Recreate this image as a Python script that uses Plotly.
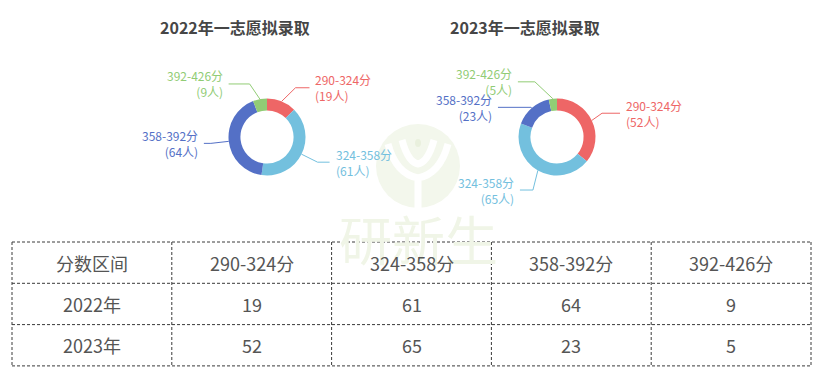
import math
import plotly.graph_objects as go

# ---------------- data ----------------
categories = ["290-324分", "324-358分", "358-392分", "392-426分"]
years = ["2022年", "2023年"]
counts_2022 = [19, 61, 64, 9]
counts_2023 = [52, 65, 23, 5]
chart_titles = ["2022年一志愿拟录取", "2023年一志愿拟录取"]
table_header = "分数区间"
unit_person = "人"

# ---------------- style ----------------
W, H = 834, 381
FONT = "Noto Sans CJK SC"
COLORS = ["#ee6666", "#73c0de", "#5470c6", "#91cc75"]
CENTERS = [(267, 137), (557, 137)]
R_OUT = 38.5
HOLE = 0.69
LEN1 = 18
GAP = 4
# per chart, per slice: (elbow dx, elbow dy, horizontal length) label-layout tuning
LABEL_TUNE = [
    [(7, 3, 14), (0, 0, 12), (0, 0, 7), (-7, 2.5, 21)],
    [(-6, 0.5, 18), (4, 4, 13), (11, 13, 33), (-16, 1, 17)],
]
TITLE_DX = -32
TITLE_Y = 27
TABLE_LEFT, TABLE_TOP = 12, 242
COL_W, ROW_H = 159.8, 41.3
LINE_COLOR = "#3a3a3a"
TEXT_COLOR = "#555555"

fig = go.Figure()
# invisible cartesian layer in pixel units (for labels, lines, table)
fig.add_trace(go.Scatter(x=[], y=[], showlegend=False, hoverinfo="skip"))

shapes = []
annotations = []

# watermark (faint logo + text)
wm_cx, wm_cy, wm_r = 418, 166, 42
shapes.append(dict(type="circle", xref="x", yref="y", layer="below",
                   x0=wm_cx - wm_r, x1=wm_cx + wm_r, y0=wm_cy - wm_r, y1=wm_cy + wm_r,
                   fillcolor="#f3f7ec", line=dict(width=0)))
shapes.append(dict(type="path", xref="x", yref="y", layer="below",
                   path=f"M {wm_cx-30},{wm_cy-22} Q {wm_cx-22},{wm_cy+8} {wm_cx},{wm_cy+12} "
                        f"Q {wm_cx+22},{wm_cy+8} {wm_cx+30},{wm_cy-22} "
                        f"M {wm_cx},{wm_cy+12} L {wm_cx},{wm_cy+42} "
                        f"M {wm_cx-16},{wm_cy-26} Q {wm_cx-10},{wm_cy-4} {wm_cx},{wm_cy-2} "
                        f"Q {wm_cx+10},{wm_cy-4} {wm_cx+16},{wm_cy-26}",
                   line=dict(color="white", width=7)))
shapes.append(dict(type="circle", xref="x", yref="y", layer="below",
                   x0=wm_cx - 3, x1=wm_cx + 3, y0=wm_cy - 27, y1=wm_cy - 19,
                   fillcolor="#e9f0dd", line=dict(width=0)))
annotations.append(dict(x=wm_cx, y=238, xref="x", yref="y", text="研新生", showarrow=False,
                        font=dict(family=FONT, size=53, color="#f0f5e7")))

for ci, (counts, title) in enumerate(zip([counts_2022, counts_2023], chart_titles)):
    cx, cy = CENTERS[ci]
    fig.add_trace(go.Pie(
        labels=categories, values=counts, hole=HOLE, sort=False,
        direction="clockwise", rotation=0,
        marker=dict(colors=COLORS, line=dict(width=0)),
        textinfo="none", showlegend=False, hoverinfo="label+value",
        domain=dict(x=[(cx - R_OUT) / W, (cx + R_OUT) / W],
                    y=[(H - cy - R_OUT) / H, (H - cy + R_OUT) / H]),
    ))
    annotations.append(dict(x=cx + TITLE_DX, y=TITLE_Y, xref="x", yref="y",
                            text=f"<b>{title}</b>", showarrow=False,
                            font=dict(family=FONT, size=16, color="#464646")))
    total = sum(counts)
    cum = 0
    for si, v in enumerate(counts):
        theta = 2 * math.pi * (cum + v / 2) / total
        cum += v
        dx, dy = math.sin(theta), -math.cos(theta)
        ex, ey = cx + R_OUT * dx, cy + R_OUT * dy
        tdx, tdy, len2 = LABEL_TUNE[ci][si]
        bx = cx + (R_OUT + LEN1) * dx + tdx
        by = cy + (R_OUT + LEN1) * dy + tdy
        side = 1 if dx >= 0 else -1
        endx = bx + side * len2
        shapes.append(dict(type="path", xref="x", yref="y",
                           path=f"M {ex:.2f},{ey:.2f} L {bx:.2f},{by:.2f} L {endx:.2f},{by:.2f}",
                           line=dict(color=COLORS[si], width=1)))
        annotations.append(dict(
            x=endx + side * GAP, y=by, xref="x", yref="y",
            text=f"{categories[si]}<br>({v}{unit_person})", showarrow=False,
            xanchor="left" if side > 0 else "right", yanchor="middle",
            align="left" if side > 0 else "right",
            font=dict(family=FONT, size=12, color=COLORS[si])))

# ---------------- table ----------------
rows = [[table_header] + categories,
        [years[0]] + [str(v) for v in counts_2022],
        [years[1]] + [str(v) for v in counts_2023]]
ncols, nrows = len(rows[0]), len(rows)
right = TABLE_LEFT + ncols * COL_W
bottom = TABLE_TOP + nrows * ROW_H
dash = "3px,2px"
for r in range(nrows + 1):
    y = TABLE_TOP + r * ROW_H
    shapes.append(dict(type="line", xref="x", yref="y", x0=TABLE_LEFT, x1=right, y0=y, y1=y,
                       line=dict(color=LINE_COLOR, width=1, dash=dash)))
for c in range(ncols + 1):
    x = TABLE_LEFT + c * COL_W
    shapes.append(dict(type="line", xref="x", yref="y", x0=x, x1=x, y0=TABLE_TOP, y1=bottom,
                       line=dict(color=LINE_COLOR, width=1, dash=dash)))
for r, row in enumerate(rows):
    for c, txt in enumerate(row):
        annotations.append(dict(x=TABLE_LEFT + (c + 0.5) * COL_W, y=TABLE_TOP + (r + 0.5) * ROW_H,
                                xref="x", yref="y", text=txt, showarrow=False,
                                font=dict(family=FONT, size=18, color=TEXT_COLOR)))

fig.update_layout(
    width=W, height=H, margin=dict(l=0, r=0, t=0, b=0),
    paper_bgcolor="white", plot_bgcolor="rgba(0,0,0,0)",
    xaxis=dict(range=[0, W], visible=False, fixedrange=True),
    yaxis=dict(range=[H, 0], visible=False, fixedrange=True),
    shapes=shapes, annotations=annotations,
)
fig.write_html("out.html", config={"displayModeBar": False},
               post_script="document.body.style.margin='0';document.body.style.overflow='hidden';")
